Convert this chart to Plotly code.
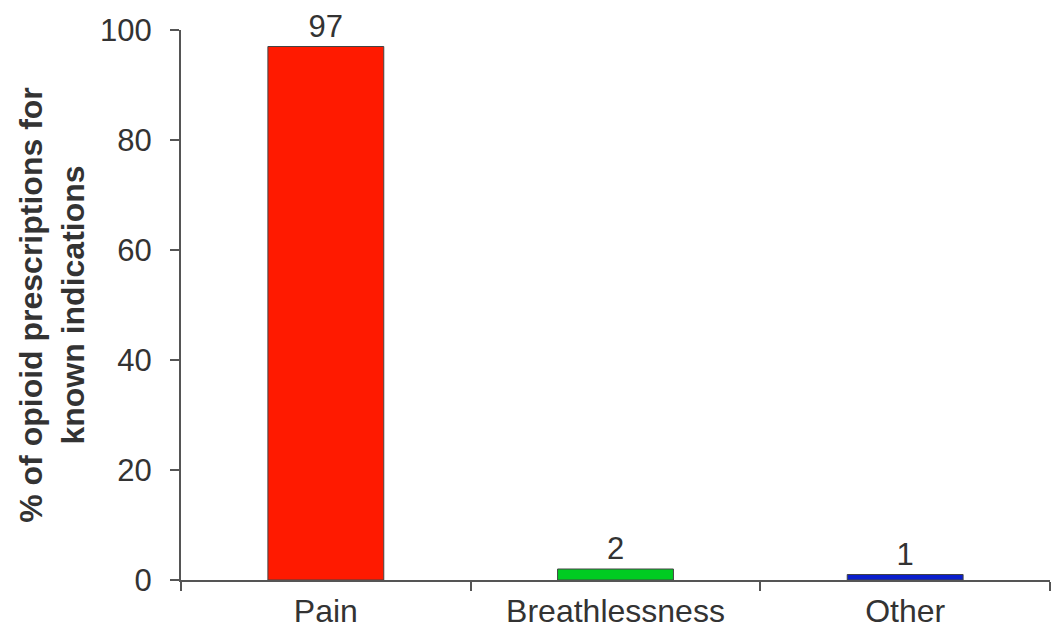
import plotly.graph_objects as go

categories = ["Pain", "Breathlessness", "Other"]
values = [97, 2, 1]
labels = ["97", "2", "1"]
colors = ["#FF1A00", "#00CC22", "#0A1ECC"]
y_ticks = [0, 20, 40, 60, 80, 100]

FONT = "Liberation Sans, Arial"

fig = go.Figure()
fig.add_trace(go.Bar(
    x=categories, y=values, text=labels, textposition="outside",
    marker=dict(color=colors, line=dict(color="#444444", width=1)),
    width=0.4, cliponaxis=False,
    textfont=dict(size=31, color="#333333", family=FONT),
))
fig.update_layout(
    width=1064, height=633,
    margin=dict(l=173, r=22, t=22, b=61, autoexpand=False),
    plot_bgcolor="white", paper_bgcolor="white",
    font=dict(family=FONT, size=31, color="#333333"),
    showlegend=False,
    bargap=0.6,
)
fig.update_yaxes(
    range=[0, 100], tickvals=y_ticks, ticks="outside", ticklen=9, tickwidth=2,
    tickcolor="#555555", showline=True, linecolor="#555555", linewidth=2,
    showgrid=False, zeroline=False, automargin=False, ticklabelstandoff=12,
    tickfont=dict(size=31, color="#333333", family=FONT),
    title=dict(text="% of opioid prescriptions for<br>known indications",
               font=dict(size=32, color="#333333", family=FONT, weight="bold"), standoff=6),
)
fig.update_xaxes(
    range=[-0.5, 2.5], ticks="outside", tickson="boundaries", ticklen=9, tickwidth=2,
    tickcolor="#555555", showline=True, linecolor="#555555", linewidth=2,
    showgrid=False, automargin=False, ticklabelstandoff=2,
    tickfont=dict(size=32, color="#333333", family=FONT),
)
fig.write_html("out.html")
